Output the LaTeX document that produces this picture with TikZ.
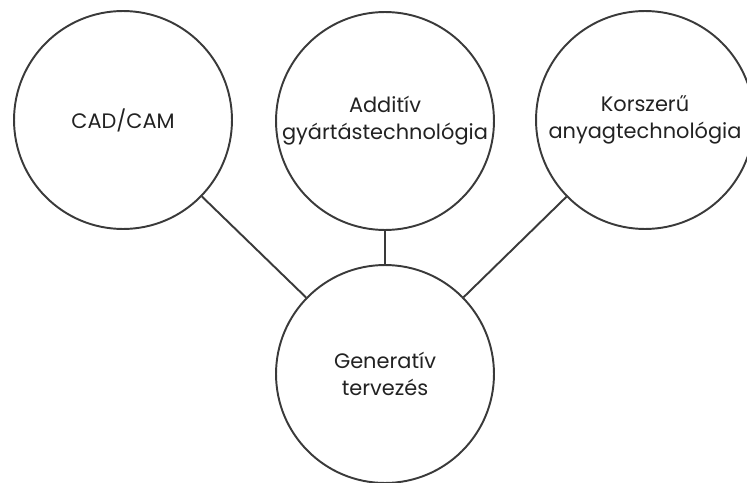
\documentclass[tikz,border=0pt]{standalone}
\usepackage{fontspec}
\setmainfont{Poppins}
\usepackage{xcolor}
\usepackage{tikz}
\usetikzlibrary{positioning}

\definecolor{edgegray}{HTML}{3A3A3A}
\definecolor{textgray}{HTML}{222222}

\begin{document}
\begin{tikzpicture}[
    x=0.02cm, y=-0.02cm,
    topic/.style={circle, draw=edgegray, line width=1.1pt, minimum size=4.36cm, inner sep=0pt, align=center, text=textgray, font=\fontsize{11.9}{15.5}\selectfont},
    link/.style={draw=edgegray, line width=1.1pt}
]
    \useasboundingbox (0,0) rectangle (747,483);

    \node [topic] (cadcam) at (123,120) {CAD/CAM};
    \node [topic] (additiv) at (385,121) {Additív\\gyártástechnológia};
    \node [topic] (anyag) at (645,120) {Korszerű\\anyagtechnológia};
    \node [topic] (generativ) at (385,374) {Generatív\\tervezés};

    \draw [link] (cadcam) -- (generativ);
    \draw [link] (additiv) -- (generativ);
    \draw [link] (anyag) -- (generativ);
\end{tikzpicture}
\end{document}
